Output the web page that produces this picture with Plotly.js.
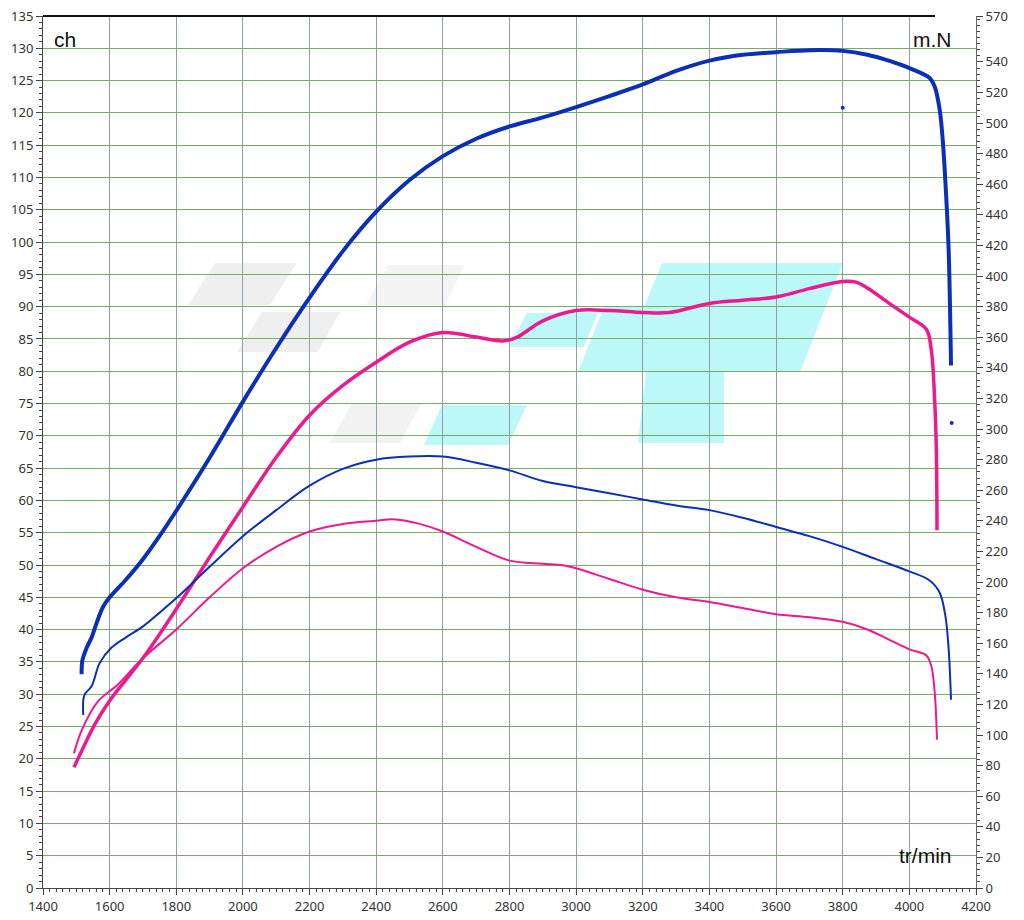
<!DOCTYPE html>
<html>
<head>
<meta charset="utf-8">
<script src="https://cdn.plot.ly/plotly-3.0.1.min.js"></script>
<style>html,body{margin:0;padding:0;background:#fff;}#chart{width:1024px;height:920px;}</style>
</head>
<body>
<div id="chart"></div>
<script>
// Power (ch) – blue, thick
const powerBlueRpm = [1516,1518,1531,1546,1560,1580,1600,1650,1700,1750,1800,1900,2000,2100,2200,2300,2400,2500,2600,2700,2800,2900,3000,3100,3200,3300,3400,3500,3600,3700,3800,3874,3943,4002,4061,4076,4091,4100,4110,4118,4125];
const powerBlueCh  = [33.1,35.2,37.2,38.8,40.9,43.5,45.0,47.8,50.9,54.5,58.4,66.6,75.3,83.6,91.4,98.6,104.7,109.6,113.3,116.0,117.9,119.3,120.9,122.6,124.4,126.5,128.1,129.0,129.4,129.7,129.6,129.0,128.0,126.9,125.4,124.1,120.5,115.9,107.6,98.6,80.9];

// Power (ch) – pink, thick
const powerPinkRpm = [1493,1516,1555,1600,1650,1700,1750,1800,1850,1900,2000,2100,2200,2300,2400,2500,2600,2700,2780,2820,2900,3000,3100,3200,3280,3400,3500,3600,3700,3800,3840,3874,3943,4002,4051,4066,4076,4081,4083];
const powerPinkCh  = [18.7,21.2,25.3,29.0,32.3,35.6,39.3,43.2,47.2,51.2,59.0,66.7,73.2,77.8,81.4,84.5,86.0,85.3,84.7,85.2,87.8,89.4,89.4,89.1,89.1,90.5,91.0,91.5,92.8,93.9,93.8,92.9,90.4,88.3,86.5,83.2,75.5,67.8,55.4];

// Torque (m.N) – blue, thin
const torqueBlueRpm = [1521,1524,1546,1570,1605,1650,1700,1750,1803,1900,2000,2100,2200,2300,2400,2500,2600,2700,2800,2900,3000,3100,3200,3300,3400,3500,3600,3700,3800,3900,4000,4061,4091,4108,4118,4125];
const torqueBlueNm  = [113,126,132,147,157,164,171,180,190,210,230,247,263,274,280,282,282,278,273,266,262,258,254,250,247,242,236,230,223,215,207,201,193,178,156,123];

// Torque (m.N) – pink, thin
const torquePinkRpm = [1493,1516,1565,1625,1694,1800,1900,2000,2100,2200,2300,2400,2450,2530,2600,2700,2800,2900,2960,3000,3100,3200,3300,3400,3500,3600,3700,3800,3874,3933,4000,4051,4066,4076,4083];
const torquePinkNm  = [88,103,122,133,149,169,190,209,223,233,238,240,241,238,233,223,214,212,211,209,202,195,190,187,183,179,177,174,169,163,156,152,145,128,97];

// Peak markers
const peakRpm = [3800,4127];
const peakCh  = [120.8,72.0];

// Axis ticks
const rightTickVals = [0,20,40,60,80,100,120,140,160,180,200,220,240,260,280,300,320,340,360,380,400,420,440,460,480,500,520,540,570];

const BLUE = '#0b2fb5';
const PINK = '#ec1a8e';

const traces = [
  {x: torquePinkRpm, y: torquePinkNm, yaxis:'y2', mode:'lines', line:{color:PINK, width:2, shape:'spline', smoothing:1}, hoverinfo:'skip'},
  {x: torqueBlueRpm, y: torqueBlueNm, yaxis:'y2', mode:'lines', line:{color:BLUE, width:2, shape:'spline', smoothing:1}, hoverinfo:'skip'},
  {x: powerPinkRpm, y: powerPinkCh, mode:'lines', line:{color:PINK, width:3.5, shape:'spline', smoothing:1}, hoverinfo:'skip'},
  {x: powerBlueRpm, y: powerBlueCh, mode:'lines', line:{color:BLUE, width:4, shape:'spline', smoothing:1}, hoverinfo:'skip'},
  {x: peakRpm, y: peakCh, mode:'markers', marker:{color:BLUE, size:4}, hoverinfo:'skip'}
];

// watermark (pixel outline -> paper coords)
const L=43, R=976, T=16, B=888;
function P(pts){
  return 'M' + pts.map(p => ((p[0]-L)/(R-L)).toFixed(4)+','+((B-p[1])/(B-T)).toFixed(4)).join(' L') + ' Z';
}
const wm = [
  {pts:[[215,263],[297,263],[270,305],[188,305]], c:'#efefef'},
  {pts:[[262,312],[340,312],[318,352],[237,352]], c:'#efefef'},
  {pts:[[388,265],[465,265],[445,305],[366,305]], c:'#f4f4f4'},
  {pts:[[352,403],[422,403],[400,443],[330,443]], c:'#f2f2f2'},
  {pts:[[442,405],[527,405],[508,445],[424,445]], c:'#bdf8f8'},
  {pts:[[527,313],[598,313],[584,347],[509,347]], c:'#bdf8f8'},
  {pts:[[662,263],[843,263],[800,372],[724,372],[724,443],[638,443],[646,372],[578,372],[604,307],[644,307]], c:'#bdf8f8'}
];
const shapes = wm.map(w => ({type:'path', xref:'paper', yref:'paper', path:P(w.pts), fillcolor:w.c, line:{width:0}, layer:'below'}));
shapes.push({type:'line', xref:'paper', yref:'paper', x0:0, x1:(935-L)/(R-L), y0:1, y1:1, line:{color:'#111', width:2}});

const tickFont = {family:'Noto Sans, DejaVu Sans, sans-serif', size:13, color:'#333'};

const layout = {
  width:1024, height:920,
  margin:{l:43, r:48, t:16, b:32},
  paper_bgcolor:'#ffffff', plot_bgcolor:'#ffffff',
  showlegend:false,
  xaxis:{
    range:[1400,4200], dtick:200, tick0:1400,
    showgrid:true, gridcolor:'#8fa0a8', gridwidth:1,
    zeroline:false, showline:true, linecolor:'#444', linewidth:1,
    ticks:'outside', ticklen:6, tickcolor:'#444', tickfont:tickFont,
    minor:{dtick:20, ticks:'outside', ticklen:3, tickcolor:'#444', showgrid:false}
  },
  yaxis:{
    range:[0,135], dtick:5, tick0:0,
    showgrid:true, gridcolor:'#7bab62', gridwidth:1,
    zeroline:false, showline:true, linecolor:'#444', linewidth:1,
    ticks:'outside', ticklen:6, tickcolor:'#444', tickfont:tickFont,
    minor:{dtick:1, ticks:'outside', ticklen:3, tickcolor:'#444', showgrid:false}
  },
  yaxis2:{
    range:[0,570], overlaying:'y', side:'right',
    tickmode:'array', tickvals:rightTickVals,
    showgrid:false, zeroline:false, showline:true, linecolor:'#666', linewidth:1,
    ticks:'outside', ticklen:6, tickcolor:'#444', tickfont:tickFont,
    minor:{dtick:4, ticks:'outside', ticklen:3, tickcolor:'#444', showgrid:false}
  },
  shapes: shapes,
  annotations:[
    {text:'ch', xref:'paper', yref:'paper', x:(52-L)/(R-L), y:(B-40)/(B-T), xanchor:'left', yanchor:'middle', showarrow:false, font:{family:'Liberation Sans, Arial, sans-serif', size:21, color:'#111'}},
    {text:'m.N', xref:'paper', yref:'paper', x:(954-L)/(R-L), y:(B-40)/(B-T), xanchor:'right', yanchor:'middle', showarrow:false, font:{family:'Liberation Sans, Arial, sans-serif', size:21, color:'#111'}},
    {text:'tr/min', xref:'paper', yref:'paper', x:(954-L)/(R-L), y:(B-855)/(B-T), xanchor:'right', yanchor:'middle', showarrow:false, font:{family:'Liberation Sans, Arial, sans-serif', size:21, color:'#111'}}
  ]
};

Plotly.newPlot('chart', traces, layout, {staticPlot:true, displayModeBar:false});
</script>
</body>
</html>
